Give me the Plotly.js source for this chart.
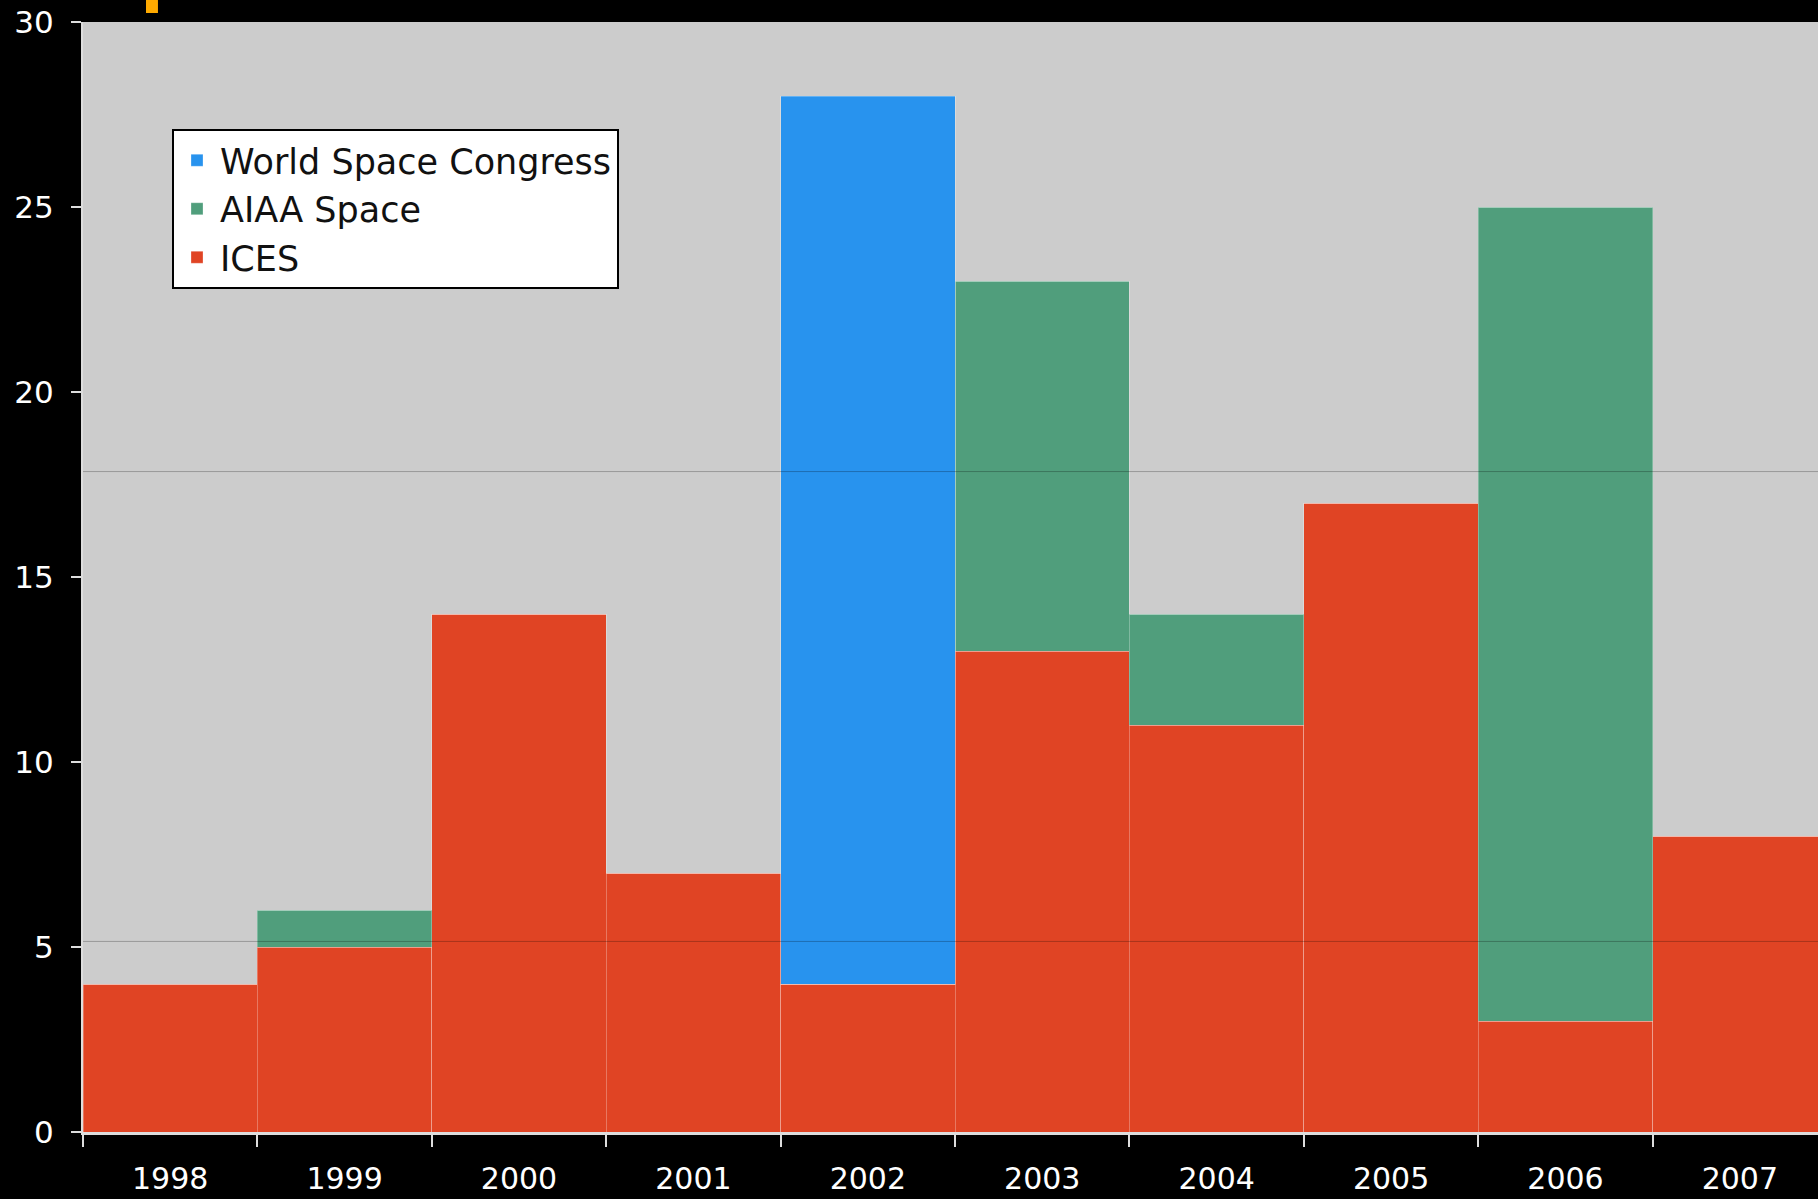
<!DOCTYPE html>
<html>
<head>
<meta charset="utf-8">
<script src="https://cdn.plot.ly/plotly-3.0.1.min.js"></script>
<style>html,body{margin:0;padding:0;background:#000;}#chart{width:1818px;height:1199px;}</style>
</head>
<body>
<div id="chart"></div>
<script>
var years = ['1998','1999','2000','2001','2002','2003','2004','2005','2006','2007'];
var ices = [4, 5, 14, 7, 4, 13, 11, 17, 3, 8];
var aiaaSpace = [0, 1, 0, 0, 0, 10, 3, 0, 22, 0];
var worldSpaceCongress = [0, 0, 0, 0, 24, 0, 0, 0, 0, 0];
var yTicks = [0, 5, 10, 15, 20, 25, 30];
var refLines = [17.85, 5.15];

var barLine = {color: 'rgba(255,255,255,0.28)', width: 1};
var traces = [
  {type: 'bar', name: 'ICES', x: years, y: ices, marker: {color: '#E04424', line: barLine}},
  {type: 'bar', name: 'AIAA Space', x: years, y: aiaaSpace, marker: {color: '#509E7C', line: barLine}},
  {type: 'bar', name: 'World Space Congress', x: years, y: worldSpaceCongress, marker: {color: '#2893EE', line: barLine}}
];

var shapes = refLines.map(function (v) {
  return {type: 'line', xref: 'paper', x0: 0, x1: 1, yref: 'y', y0: v, y1: v,
          line: {color: 'rgba(0,0,0,0.25)', width: 1}, layer: 'above'};
});
shapes.push({type: 'rect', xref: 'paper', yref: 'paper', x0: 0.0363, x1: 0.0432, y0: 1.0081, y1: 1.0198,
             fillcolor: '#FFAA00', line: {width: 0}});

var layout = {
  width: 1818, height: 1199,
  margin: {l: 83, r: 0, t: 22, b: 67, pad: 0},
  paper_bgcolor: '#000000',
  plot_bgcolor: '#CCCCCC',
  barmode: 'stack',
  bargap: 0,
  font: {family: 'DejaVu Sans, Verdana, sans-serif', color: '#ffffff', size: 30},
  showlegend: true,
  legend: {
    x: 0.0513, y: 0.9036, xanchor: 'left', yanchor: 'top',
    bgcolor: '#ffffff', bordercolor: '#000000', borderwidth: 2,
    font: {family: 'DejaVu Sans, Verdana, sans-serif', color: '#111111', size: 35},
    traceorder: 'reversed',
    itemwidth: 36
  },
  xaxis: {
    type: 'category',
    range: [-0.5, 9.448],
    tickson: 'boundaries',
    ticks: 'outside', ticklen: 12, tickwidth: 2, tickcolor: '#dddddd',
    showline: true, linecolor: '#dddddd', linewidth: 3,
    showgrid: false, zeroline: false,
    tickfont: {size: 30, color: '#ffffff'},
    ticklabelstandoff: 18
  },
  yaxis: {
    range: [0, 30],
    tickvals: yTicks,
    ticktext: yTicks.map(String),
    ticks: 'outside', ticklen: 10, tickwidth: 2, tickcolor: '#dddddd',
    showline: true, linecolor: '#dddddd', linewidth: 2,
    showgrid: false, zeroline: false,
    tickfont: {size: 31, color: '#ffffff'},
    ticklabelstandoff: 11
  },
  shapes: shapes
};

Plotly.newPlot('chart', traces, layout, {displayModeBar: false, staticPlot: true});
</script>
</body>
</html>
